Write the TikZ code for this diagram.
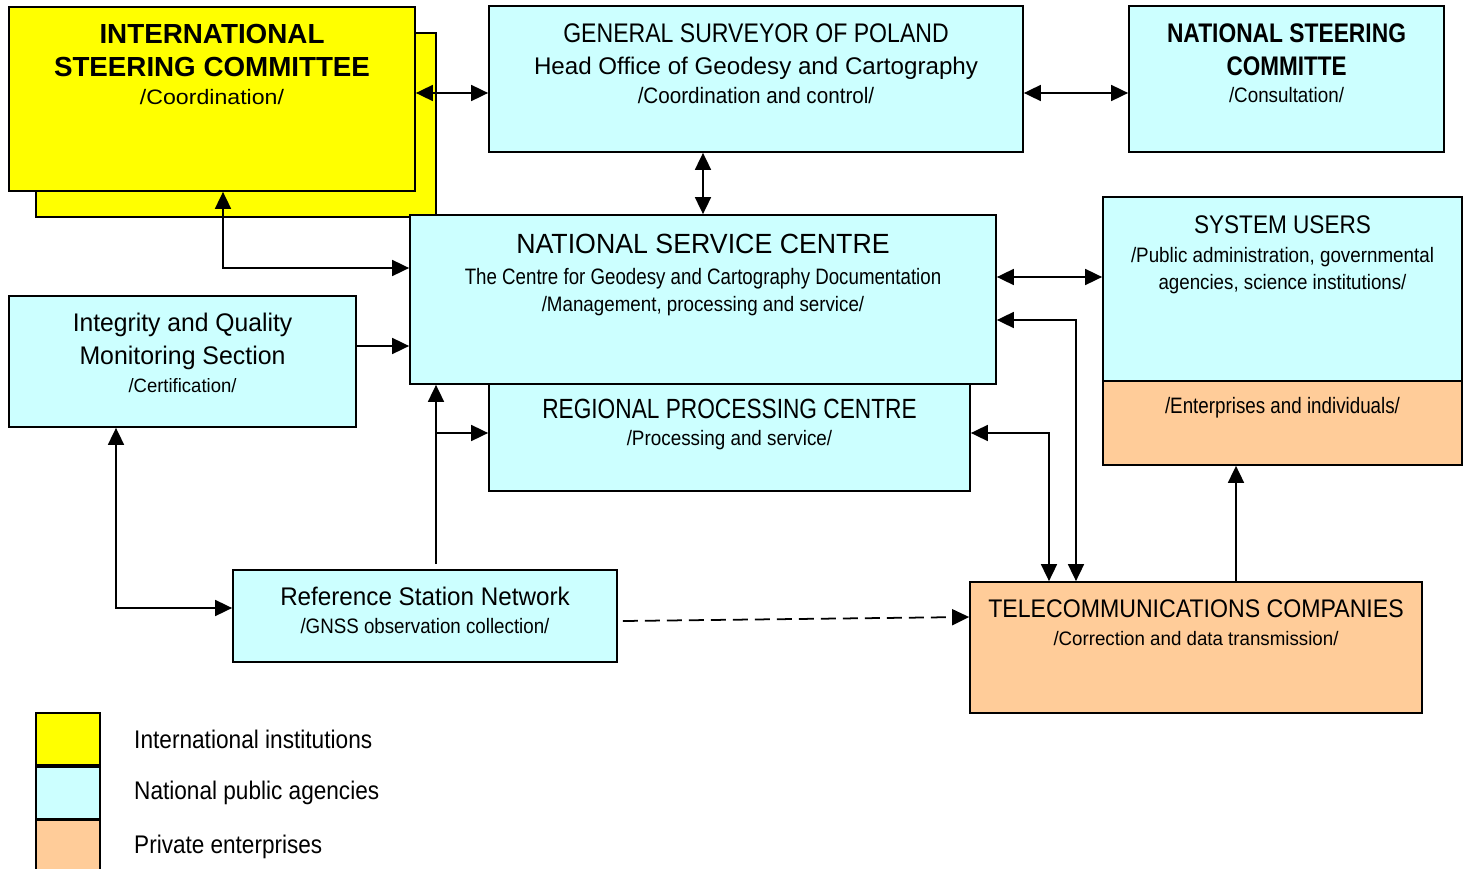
\documentclass[tikz,border=0pt]{standalone}
\usepackage{fontspec}
\usepackage{graphicx}
\setmainfont{Liberation Sans}
\usetikzlibrary{arrows.meta, positioning}

\definecolor{intyellow}{HTML}{FFFF00}
\definecolor{natcyan}{HTML}{CCFFFF}
\definecolor{privorange}{HTML}{FFCC99}

% squeeze one line of text to a given width
\newlength\fitlen
\newcommand\fitw[2]{\settowidth{\fitlen}{#2}\pgfmathsetmacro\fitfac{#1/\fitlen}\scalebox{\fitfac}[1]{#2}}
\newcommand\fsz[1]{\fontsize{#1}{15}\selectfont}

\begin{document}
\begin{tikzpicture}[
    box/.style={rectangle, draw, line width=1pt, inner sep=0pt},
    intl/.style={box, fill=intyellow},
    natl/.style={box, fill=natcyan},
    priv/.style={box, fill=privorange},
    txt/.style={align=center, inner sep=0pt, font=\fsz{12}},
    legtxt/.style={inner sep=0pt, font=\fsz{14.5}},
    arrow/.style={-{Triangle[length=0.34cm,width=0.32cm]}, line width=1pt},
    darrow/.style={{Triangle[length=0.34cm,width=0.32cm]}-{Triangle[length=0.34cm,width=0.32cm]}, line width=1pt}
]
\useasboundingbox (0,0) rectangle (29.26,-17.38);

% International Steering Committee
\node[intl, minimum width=8cm, minimum height=3.68cm] (iscback) at (4.72,-2.5) {};
\node[intl, minimum width=8.12cm, minimum height=3.68cm] (isc) at (4.24,-1.98) {};
\node[txt, below=0.36cm of isc.north] (isct) {%
  {\fsz{15.7}\bfseries\fitw{4.5cm}{INTERNATIONAL}}\\[3.7pt]
  {\fsz{15.7}\bfseries\fitw{6.32cm}{STEERING COMMITTEE}}\\[0.6pt]
  {\fsz{11.9}\fitw{2.88cm}{/Coordination/}}};

% General Surveyor of Poland
\node[natl, minimum width=10.68cm, minimum height=2.92cm] (gs) at (15.12,-1.58) {};
\node[txt, below=0.36cm of gs.north] (gst) {%
  {\fsz{15.3}\fitw{7.71cm}{GENERAL SURVEYOR OF POLAND}}\\[3.1pt]
  {\fsz{13.7}\fitw{8.88cm}{Head Office of Geodesy and Cartography}}\\[1.65pt]
  {\fsz{12.7}\fitw{4.73cm}{/Coordination and control/}}};

% National Steering Committe
\node[natl, minimum width=6.3cm, minimum height=2.92cm] (nst) at (25.73,-1.58) {};
\node[txt, below=0.36cm of nst.north] (nstt) {%
  {\fsz{15.3}\bfseries\fitw{4.78cm}{NATIONAL STEERING}}\\[3.7pt]
  {\fsz{15.3}\bfseries\fitw{2.4cm}{COMMITTE}}\\[0.75pt]
  {\fsz{11.9}\fitw{2.3cm}{/Consultation/}}};

% Regional Processing Centre (under the national centre)
\node[natl, minimum width=9.62cm, minimum height=2.14cm] (rpc) at (14.59,-8.75) {};

% National Service Centre
\node[natl, minimum width=11.72cm, minimum height=3.38cm] (nsc) at (14.06,-5.99) {};
\node[txt, below=0.4cm of nsc.north] (nsct) {%
  {\fsz{15.8}\fitw{7.47cm}{NATIONAL SERVICE CENTRE}}\\[2.6pt]
  {\fsz{12.7}\fitw{9.53cm}{The Centre for Geodesy and Cartography Documentation}}\\
  {\fsz{11.9}\fitw{6.45cm}{/Management, processing and service/}}};

\node[txt, below=0.27cm of rpc.north |- nsc.south] (rpct) {%
  {\fsz{15.8}\fitw{7.49cm}{REGIONAL PROCESSING CENTRE}}\\[0.6pt]
  {\fsz{11.9}\fitw{4.11cm}{/Processing and service/}}};

% System Users
\node[natl, minimum width=7.18cm, minimum height=3.68cm] (su) at (25.65,-5.78) {};
\node[priv, minimum width=7.18cm, minimum height=1.68cm] (suo) at (25.65,-8.46) {};
\node[txt, below=0.39cm of su.north] (sut) {%
  {\fsz{14.5}\fitw{3.54cm}{SYSTEM USERS}}\\[1.6pt]
  {\fsz{11.9}\fitw{6.06cm}{/Public administration, governmental}}\\[0.3pt]
  {\fsz{11.9}\fitw{4.96cm}{agencies, science institutions/}}};
\node[txt, below=0.33cm of suo.north] (suot) {%
  {\fsz{12.7}\fitw{4.7cm}{/Enterprises and individuals/}}};

% Integrity and Quality Monitoring Section
\node[natl, minimum width=6.94cm, minimum height=2.62cm] (iqm) at (3.65,-7.23) {};
\node[txt, below=0.36cm of iqm.north] (iqmt) {%
  {\fsz{14.5}\fitw{4.39cm}{Integrity and Quality}}\\[3.7pt]
  {\fsz{14.5}\fitw{4.12cm}{Monitoring Section}}\\[0.75pt]
  {\fsz{11}\fitw{2.16cm}{/Certification/}}};

% Reference Station Network
\node[natl, minimum width=7.68cm, minimum height=1.84cm] (rsn) at (8.5,-12.32) {};
\node[txt, below=0.35cm of rsn.north] (rsnt) {%
  {\fsz{14.5}\fitw{5.79cm}{Reference Station Network}}\\[1.05pt]
  {\fsz{11.9}\fitw{4.98cm}{/GNSS observation collection/}}};

% Telecommunications Companies
\node[priv, minimum width=9.04cm, minimum height=2.62cm] (tel) at (23.92,-12.95) {};
\node[txt, below=0.37cm of tel.north] (telt) {%
  {\fsz{14.5}\fitw{8.31cm}{TELECOMMUNICATIONS COMPANIES}}\\[0.75pt]
  {\fsz{11.1}\fitw{5.7cm}{/Correction and data transmission/}}};

% Arrows
\draw[darrow] ([yshift=0.12cm]isc.east) -- ([yshift=0.12cm]isc.east -| gs.west);
\draw[darrow] ([yshift=-0.28cm]gs.east) -- ([yshift=-0.28cm]gs.east -| nst.west);
\draw[darrow] (nsc.north) -- (nsc.north |- gs.south);
\draw[darrow] ([xshift=0.22cm]isc.south) |- ([yshift=0.63cm]nsc.west);
\draw[arrow] ([yshift=0.31cm]iqm.east) -- ([yshift=0.31cm]iqm.east -| nsc.west);
\draw[darrow] ([xshift=-1.33cm]iqm.south) |- ([yshift=0.16cm]rsn.west);
\coordinate (rsnup) at ([xshift=0.22cm, yshift=0.1cm]rsn.north);
\draw[arrow] (rsnup) -- (rsnup |- nsc.south);
\draw[arrow] ([yshift=0.09cm]rpc.west -| rsnup) -- ([yshift=0.09cm]rpc.west);
\draw[darrow] ([yshift=0.45cm]nsc.east) -- ([yshift=0.45cm]nsc.east -| su.west);
\draw[darrow] ([yshift=-0.41cm]nsc.east) -| ([xshift=-2.4cm]tel.north);
\draw[darrow] ([yshift=0.09cm]rpc.east) -| ([xshift=-2.94cm]tel.north);
\draw[arrow] ([xshift=0.8cm]tel.north) -- ([xshift=0.8cm]tel.north |- suo.south);
\draw[arrow, dash pattern=on 0.3cm off 0.14cm] ([xshift=0.1cm, yshift=-0.1cm]rsn.east) -- ([yshift=0.61cm]tel.west);

% Legend
\node[intl, minimum width=1.28cm, minimum height=1.04cm] (lgint) at (1.36,-14.78) {};
\node[natl, minimum width=1.28cm, minimum height=1.04cm, below=0cm of lgint] (lgnat) {};
\node[priv, minimum width=1.28cm, minimum height=1.04cm, below=0cm of lgnat] (lgpriv) {};
\node[legtxt, right=0.66cm of lgint] (lginttxt) {\fitw{4.76cm}{International institutions}};
\node[legtxt, right=0.66cm of lgnat] (lgnattxt) {\fitw{4.9cm}{National public agencies}};
\node[legtxt, right=0.66cm of lgpriv] (lgprivtxt) {\fitw{3.76cm}{Private enterprises}};

\end{tikzpicture}
\end{document}
